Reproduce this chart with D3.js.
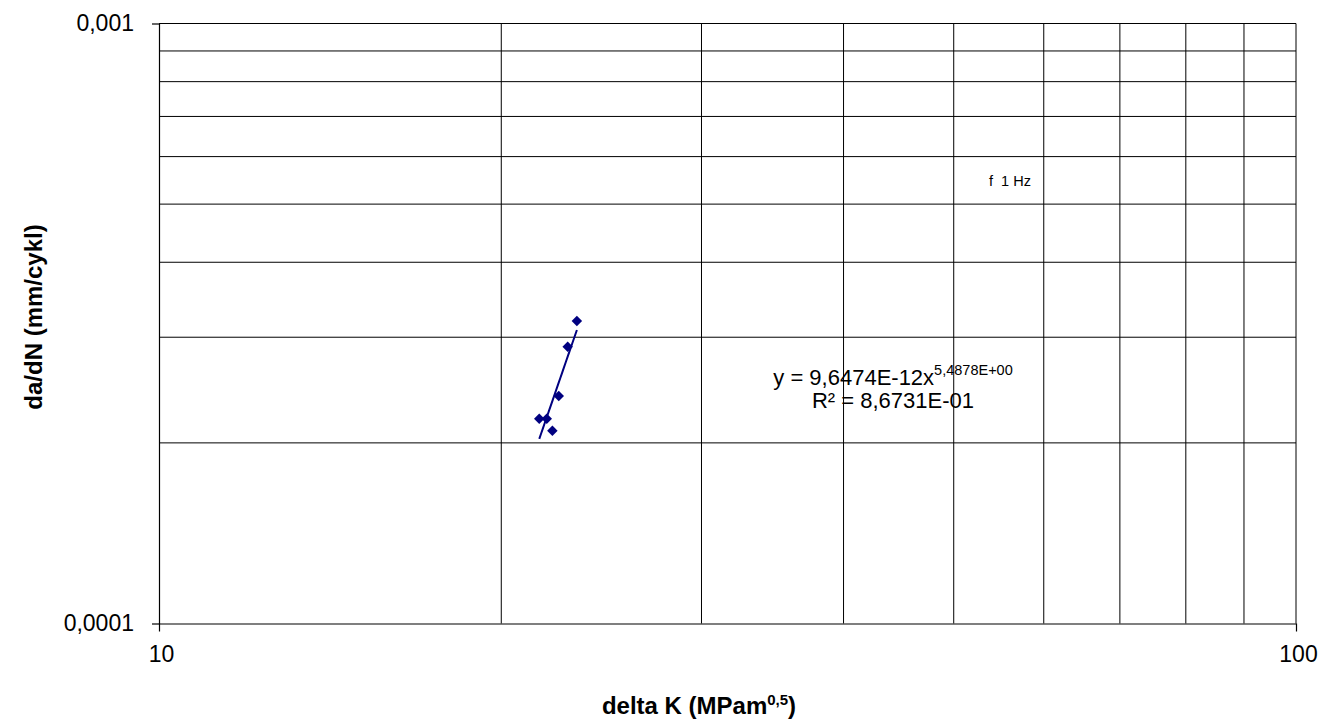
<!DOCTYPE html>
<html>
<head>
<meta charset="utf-8">
<script src="https://cdn.jsdelivr.net/npm/d3@7"></script>
<style>
  html, body { margin: 0; padding: 0; background: #fff; }
  svg { display: block; font-family: "Liberation Sans", Arial, sans-serif; }
</style>
</head>
<body>
<div id="chart"></div>
<script>
// --- data ---
const deltaK = [21.60, 21.93, 22.18, 22.47, 22.88, 23.31];
const dadN = [2.194e-4, 2.194e-4, 2.096e-4, 2.394e-4, 2.893e-4, 3.193e-4];
const fitA = 9.6474e-12;
const fitB = 5.4878;
const xTicks = [10, 100];
const xTickLabels = ['10', '100'];
const yTicks = [0.0001, 0.001];
const yTickLabels = ['0,0001', '0,001'];
const xGrid = [20, 30, 40, 50, 60, 70, 80, 90, 100];
const yGrid = [0.0002, 0.0003, 0.0004, 0.0005, 0.0006, 0.0007, 0.0008, 0.0009, 0.001];

const W = 1320, H = 720;
const plot = { left: 159, right: 1296, top: 23.5, bottom: 623.5 };
const navy = '#000080';

const svg = d3.select('#chart').append('svg')
    .attr('width', W).attr('height', H);

const x = d3.scaleLog().domain([10, 100]).range([plot.left, plot.right]);
const y = d3.scaleLog().domain([1e-4, 1e-3]).range([plot.bottom, plot.top]);

// gridlines
svg.append('g').selectAll('line').data(xGrid).join('line')
    .attr('x1', d => x(d)).attr('x2', d => x(d))
    .attr('y1', plot.top).attr('y2', plot.bottom)
    .attr('stroke', '#000').attr('stroke-width', 1);

svg.append('g').selectAll('line').data(yGrid).join('line')
    .attr('x1', plot.left).attr('x2', plot.right)
    .attr('y1', d => y(d)).attr('y2', d => y(d))
    .attr('stroke', '#000').attr('stroke-width', 1);

// axes
const xAxis = d3.axisBottom(x).tickValues(xTicks)
    .tickFormat((d, i) => xTickLabels[i]).tickSizeInner(8).tickSizeOuter(0).tickPadding(14);
const yAxis = d3.axisLeft(y).tickValues(yTicks)
    .tickFormat((d, i) => yTickLabels[i]).tickSizeInner(7).tickSizeOuter(0).tickPadding(18);

const gx = svg.append('g').attr('transform', `translate(0,${plot.bottom})`).call(xAxis);
const gy = svg.append('g').attr('transform', `translate(${plot.left},0)`).call(yAxis);
[gx, gy].forEach(g => {
    g.selectAll('path, line').attr('stroke', '#000').attr('stroke-width', 1.2);
    g.selectAll('text').attr('fill', '#000').style('font-size', '23px')
        .style('font-family', '"Liberation Sans", Arial, sans-serif');
});
gx.selectAll('text').attr('dx', 2);

// trendline (power fit shown in the label)
const xs = d3.extent(deltaK);
const trend = d3.range(0, 21).map(k => {
    const v = xs[0] + (xs[1] - xs[0]) * k / 20;
    return [v, fitA * Math.pow(v, fitB)];
});
svg.append('path')
    .attr('d', d3.line().x(d => x(d[0])).y(d => y(d[1]))(trend))
    .attr('fill', 'none').attr('stroke', navy).attr('stroke-width', 2);

// markers
const diamond = d3.symbol().type(d3.symbolDiamond2 || d3.symbolDiamond).size(70);
svg.append('g').selectAll('path').data(deltaK).join('path')
    .attr('transform', (d, i) => `translate(${x(d)},${y(dadN[i])})`)
    .attr('d', diamond)
    .attr('fill', navy);

// equation
const eq = svg.append('text').attr('x', 893).attr('y', 385)
    .attr('text-anchor', 'middle').style('font-size', '22px').attr('fill', '#000');
eq.append('tspan').text('y = 9,6474E-12x');
eq.append('tspan').attr('dy', -10).style('font-size', '14.5px').text('5,4878E+00');

svg.append('text').attr('x', 893).attr('y', 408)
    .attr('text-anchor', 'middle').style('font-size', '22px').attr('fill', '#000')
    .text('R² = 8,6731E-01');

svg.append('text').attr('x', 989).attr('y', 186)
    .style('font-size', '14.5px').attr('fill', '#000')
    .attr('xml:space', 'preserve')
    .text('f  1 Hz');

// axis titles
const xt = svg.append('text').attr('x', 699).attr('y', 714)
    .attr('text-anchor', 'middle').style('font-size', '24px').style('font-weight', 'bold');
xt.append('tspan').text('delta K (MPam');
xt.append('tspan').attr('dy', -9).style('font-size', '15px').text('0,5');
xt.append('tspan').attr('dy', 9).text(')');

svg.append('text')
    .attr('transform', 'translate(42,317) rotate(-90)')
    .attr('text-anchor', 'middle').style('font-size', '24px').style('font-weight', 'bold')
    .text('da/dN (mm/cykl)');
</script>
</body>
</html>
